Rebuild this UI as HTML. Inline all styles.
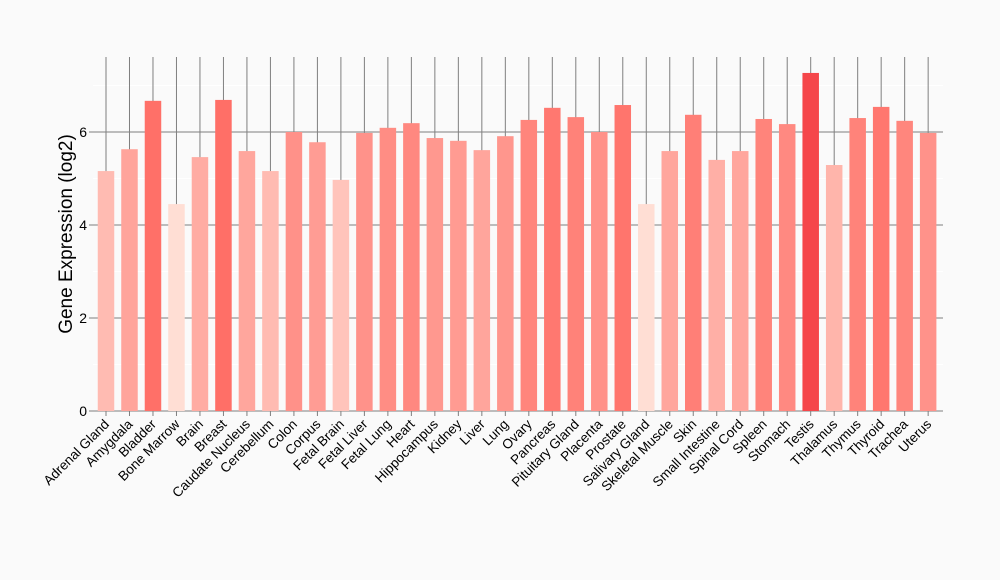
<!DOCTYPE html>
<html><head><meta charset="utf-8"><style>
html,body{margin:0;padding:0;background:#fafafa;font-family:"Liberation Sans",sans-serif;overflow:hidden;}
svg{display:block;}
svg text{font-family:"Liberation Sans",sans-serif;}
</style></head><body>
<svg id="chart" width="1000" height="580" xmlns="http://www.w3.org/2000/svg">
<rect width="1000" height="580" fill="#fafafa"/>
<g id="grid"></g><g id="bars"></g><g id="axes"></g>
<text transform="translate(72,234) rotate(-90)" text-anchor="middle" font-size="19" fill="#000">Gene Expression (log2)</text>
</svg>
<script>
const categories=["Adrenal Gland","Amygdala","Bladder","Bone Marrow","Brain","Breast","Caudate Nucleus","Cerebellum","Colon","Corpus","Fetal Brain","Fetal Liver","Fetal Lung","Heart","Hippocampus","Kidney","Liver","Lung","Ovary","Pancreas","Pituitary Gland","Placenta","Prostate","Salivary Gland","Skeletal Muscle","Skin","Small Intestine","Spinal Cord","Spleen","Stomach","Testis","Thalamus","Thymus","Thyroid","Trachea","Uterus"];
const values=[5.16,5.63,6.67,4.45,5.46,6.69,5.59,5.16,6.0,5.78,4.97,5.98,6.09,6.19,5.87,5.81,5.61,5.91,6.26,6.52,6.32,6.0,6.58,4.45,5.59,6.37,5.40,5.59,6.28,6.17,7.27,5.29,6.30,6.54,6.24,5.98];
const yTicks=[0,2,4,6];
const minorTicks=[1,3,5,7];
const NS="http://www.w3.org/2000/svg";
const X0=106,STEP=23.49,BW=16.5,YBASE=411,PPU=46.5,PLEFT=93,PRIGHT=943,PTOP=57;
function xs(i){return X0+i*STEP;}
function ys(v){return YBASE-v*PPU;}
function mk(t,a,p){const e=document.createElementNS(NS,t);for(const k in a)e.setAttribute(k,a[k]);p.appendChild(e);return e;}
function lerpc(a,b,t){return a.map(function(c,i){return Math.round(c+(b[i]-c)*t);});}
const vmin=Math.min.apply(null,values),vmax=Math.max.apply(null,values);
function col(v){const t=(v-vmin)/((vmax-vmin)||1);const s0=[255,222,212],s1=[255,112,104],s2=[245,70,74];
 const c=t<0.79?lerpc(s0,s1,t/0.79):lerpc(s1,s2,(t-0.79)/0.21);return "rgb("+c.join(",")+")";}
const gG=document.getElementById('grid'),gB=document.getElementById('bars'),gA=document.getElementById('axes');
minorTicks.forEach(function(v){const l=mk('line',{x1:PLEFT,x2:PRIGHT,y1:ys(v),y2:ys(v),stroke:'#fff','stroke-width':1},gG);

});
categories.forEach(function(c,i){const l=mk('line',{x1:xs(i),x2:xs(i),y1:PTOP,y2:YBASE+5,stroke:'#7f7f7f','stroke-width':1},gG);

});
yTicks.forEach(function(v){const l=mk('line',{x1:PLEFT-4,x2:PRIGHT,y1:ys(v),y2:ys(v),stroke:'#7f7f7f','stroke-width':1},gG);


const t=mk('text',{x:PLEFT-6,y:ys(v)+5,'text-anchor':'end','font-size':14,fill:'#000'},gA);t.textContent=v;

});
categories.forEach(function(c,i){const r=mk('rect',{x:xs(i)-BW/2,y:ys(values[i]),width:BW,height:values[i]*PPU,fill:col(values[i])},gB);


const t=mk('text',{transform:'translate('+(xs(i)+4)+','+(YBASE+14)+') rotate(-45)','text-anchor':'end','font-size':13.5,fill:'#000'},gA);t.textContent=c;

});
</script>
</body></html>
